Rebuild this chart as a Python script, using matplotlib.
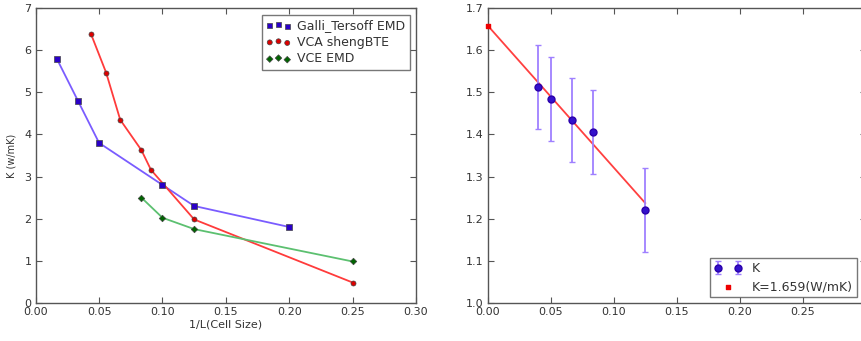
import matplotlib
matplotlib.use("Agg")
import matplotlib.pyplot as plt

# ---- data: left panel ----
galli_x = [1/60, 1/30, 0.05, 0.10, 0.125, 0.20]
galli_y = [5.80, 4.80, 3.80, 2.80, 2.30, 1.80]
vca_x = [1/23, 1/18, 1/15, 1/12, 1/11, 0.125, 0.25]
vca_y = [6.40, 5.47, 4.35, 3.63, 3.16, 1.98, 0.48]
vce_x = [1/12, 0.10, 0.125, 0.25]
vce_y = [2.50, 2.02, 1.75, 0.98]
left_xticks = [0.00, 0.05, 0.10, 0.15, 0.20, 0.25, 0.30]
left_yticks = [0, 1, 2, 3, 4, 5, 6, 7]

# ---- data: right panel ----
k_x = [0.04, 0.05, 1/15, 1/12, 0.125]
k_y = [1.512, 1.485, 1.434, 1.405, 1.221]
k_err = [0.10, 0.10, 0.10, 0.10, 0.10]
fit_x = [0.0, 0.125]
fit_y = [1.659, 1.237]
k0_x = [0.0]
k0_y = [1.659]
right_xticks = [0.00, 0.05, 0.10, 0.15, 0.20, 0.25, 0.30]
right_xlabels = ['0.00', '0.05', '0.10', '0.15', '0.20', '0.25', '']
right_yticks = [1.0, 1.1, 1.2, 1.3, 1.4, 1.5, 1.6, 1.7]

plt.rcParams['font.family'] = ['DejaVu Sans']
plt.rcParams['font.size'] = 8
TXT = '#333333'
SP = '#555555'

fig = plt.figure(figsize=(8.62, 3.41), dpi=100)
W, H = 862.0, 341.0
ax1 = fig.add_axes([35.7 / W, (H - 302.7) / H, (416.0 - 35.7) / W, (302.7 - 8.3) / H])
ax2 = fig.add_axes([487.7 / W, (H - 302.7) / H, (865.7 - 487.7) / W, (302.7 - 8.3) / H])

def style(ax):
    for s in ax.spines.values():
        s.set_color(SP)
        s.set_linewidth(1.0)
    ax.tick_params(direction='in', top=True, right=True, length=4, width=0.8,
                   color=SP, labelcolor=TXT, labelsize=8, pad=3)

# left panel
ax1.plot(galli_x, galli_y, '-', color='#7a5cff', lw=1.3, zorder=2)
ax1.plot(vca_x, vca_y, '-', color='#ff3b3b', lw=1.3, zorder=2)
ax1.plot(vce_x, vce_y, '-', color='#5cc070', lw=1.3, zorder=2)
ax1.scatter(galli_x, galli_y, marker='s', s=13, color='#2a00c8', edgecolors='#444444',
            linewidths=0.5, zorder=3, label='Galli_Tersoff EMD')
ax1.scatter(vca_x, vca_y, marker='o', s=13, color='#dd0000', edgecolors='#444444',
            linewidths=0.5, zorder=3, label='VCA shengBTE')
ax1.scatter(vce_x, vce_y, marker='D', s=11, color='#006400', edgecolors='#444444',
            linewidths=0.5, zorder=3, label='VCE EMD')
ax1.set_xlim(0, 0.30)
ax1.set_ylim(0, 7)
ax1.set_xticks(left_xticks)
ax1.set_xticklabels(['%.2f' % v for v in left_xticks])
ax1.set_yticks(left_yticks)
ax1.set_xlabel('1/L(Cell Size)', color=TXT, fontsize=8, labelpad=2)
ax1.set_ylabel('K (w/mK)', color=TXT, fontsize=7, labelpad=6)
style(ax1)
leg1 = ax1.legend(loc='upper right', scatterpoints=3, scatteryoffsets=[0.375, 0.5, 0.3125],
                  fontsize=9, frameon=True, fancybox=False, borderaxespad=0.5,
                  handletextpad=0.5, labelspacing=0.3, handlelength=2.0,
                  borderpad=0.35)
leg1.get_frame().set_edgecolor(SP)
leg1.get_frame().set_linewidth(1.0)
for t in leg1.get_texts():
    t.set_color(TXT)

# right panel
ax2.plot(fit_x, fit_y, '-', color='#ff4040', lw=1.3, zorder=2)
eb = ax2.errorbar(k_x, k_y, yerr=k_err, fmt='o', color='#3311cc', ms=5,
                  ecolor='#9f80ff', elinewidth=1.3, capsize=2.5, capthick=1.0,
                  markeredgecolor='#2a00aa', label='K', zorder=3)
sc = ax2.scatter(k0_x, k0_y, marker='s', s=12, color='#ee0000', zorder=4,
                 label='K=1.659(W/mK)', clip_on=False)
ax2.set_xlim(0, 0.30)
ax2.set_ylim(1.0, 1.7)
ax2.set_xticks(right_xticks)
ax2.set_xticklabels(right_xlabels)
ax2.set_yticks(right_yticks)
style(ax2)
leg2 = ax2.legend([eb, sc], ['K', 'K=1.659(W/mK)'], loc='lower right', numpoints=2,
                  scatterpoints=1, fontsize=9, frameon=True, fancybox=False,
                  bbox_to_anchor=(0.977, 0.018), borderaxespad=0.0,
                  handletextpad=0.8, labelspacing=0.4, handlelength=2.2,
                  borderpad=0.35)
leg2.get_frame().set_edgecolor(SP)
leg2.get_frame().set_linewidth(1.0)
for t in leg2.get_texts():
    t.set_color(TXT)

fig.savefig('out.png', dpi=100)
